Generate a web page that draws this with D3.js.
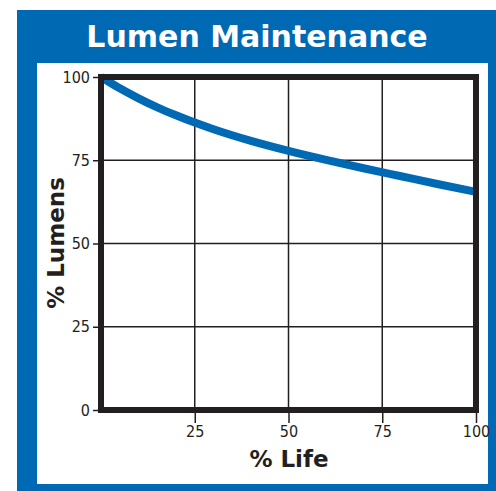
<!DOCTYPE html>
<html lang="en">
<head>
    <meta charset="UTF-8">
    <title>Lumen Maintenance</title>
    <script src="https://d3js.org/d3.v7.min.js"></script>
    <style>
        body { margin: 0; background: #fff; }
        svg { display: block; }
        .tick text {
            font-family: "Liberation Sans Narrow", "DejaVu Sans Condensed", sans-serif;
            font-size: 16px;
            fill: #231f20;
        }
    </style>
</head>
<body>
    <svg></svg>
    <script>
        const width = 496, height = 491;

        // Data
        const lifePct = [0, 5, 10, 15, 20, 25, 30, 40, 50, 60, 70, 80, 90, 100];
        const lumenPct = [100, 96.6, 93.6, 90.9, 88.5, 86.3, 84.3, 80.8, 77.8, 75.1, 72.6, 70.2, 67.8, 65.5];
        const xTicks = [25, 50, 75, 100];
        const yTicks = [0, 25, 50, 75, 100];

        const blue = "#0069b4", ink = "#231f20";

        const svg = d3.select("svg").attr("width", width).attr("height", height);

        // Blue frame and white panel
        svg.append("rect").attr("x", 17).attr("y", 10)
            .attr("width", width - 17).attr("height", height - 10)
            .attr("fill", blue);
        svg.append("rect").attr("x", 37).attr("y", 63)
            .attr("width", 451).attr("height", 421)
            .attr("fill", "#fff");

        svg.append("text")
            .attr("x", 257).attr("y", 47)
            .attr("text-anchor", "middle")
            .style("font-family", "'DejaVu Sans', sans-serif")
            .style("font-weight", "bold")
            .style("font-size", "30px")
            .style("fill", "#fff")
            .text("Lumen Maintenance");

        const x = d3.scaleLinear().domain([0, 100]).range([101, 476]);
        const y = d3.scaleLinear().domain([0, 100]).range([410, 77]);

        // Grid lines
        svg.append("g").selectAll("line.gx")
            .data(xTicks.filter(d => d < 100))
            .enter().append("line")
            .attr("x1", d => x(d)).attr("x2", d => x(d))
            .attr("y1", y(100)).attr("y2", y(0))
            .attr("stroke", ink).attr("stroke-width", 1.5);
        svg.append("g").selectAll("line.gy")
            .data(yTicks.filter(d => d > 0 && d < 100))
            .enter().append("line")
            .attr("x1", x(0)).attr("x2", x(100))
            .attr("y1", d => y(d)).attr("y2", d => y(d))
            .attr("stroke", ink).attr("stroke-width", 1.5);

        // Axes
        const xAxis = svg.append("g")
            .attr("transform", `translate(0,${y(0)})`)
            .call(d3.axisBottom(x).tickValues(xTicks).tickSize(13).tickPadding(3));
        const yAxis = svg.append("g")
            .attr("transform", `translate(${x(0)},0)`)
            .call(d3.axisLeft(y).tickValues(yTicks).tickSize(8).tickPadding(3));
        [xAxis, yAxis].forEach(g => {
            g.select(".domain").remove();
            g.selectAll(".tick line").attr("stroke", ink).attr("stroke-width", 1.5);
        });

        // Curve
        svg.append("path")
            .datum(lifePct.map((d, i) => [d, lumenPct[i]]))
            .attr("fill", "none")
            .attr("stroke", blue)
            .attr("stroke-width", 8)
            .attr("d", d3.line().x(d => x(d[0])).y(d => y(d[1])).curve(d3.curveMonotoneX));

        // Plot border
        svg.append("rect")
            .attr("x", x(0)).attr("y", y(100))
            .attr("width", x(100) - x(0)).attr("height", y(0) - y(100))
            .attr("fill", "none").attr("stroke", ink).attr("stroke-width", 6);

        // Axis titles
        svg.append("text")
            .attr("x", 289).attr("y", 467)
            .attr("text-anchor", "middle")
            .style("font-family", "'DejaVu Sans', sans-serif")
            .style("font-weight", "bold")
            .style("font-size", "23px")
            .style("fill", ink)
            .text("% Life");
        svg.append("text")
            .attr("transform", "translate(64,243) rotate(-90)")
            .attr("text-anchor", "middle")
            .style("font-family", "'DejaVu Sans', sans-serif")
            .style("font-weight", "bold")
            .style("font-size", "23px")
            .style("fill", ink)
            .text("% Lumens");
    </script>
</body>
</html>
